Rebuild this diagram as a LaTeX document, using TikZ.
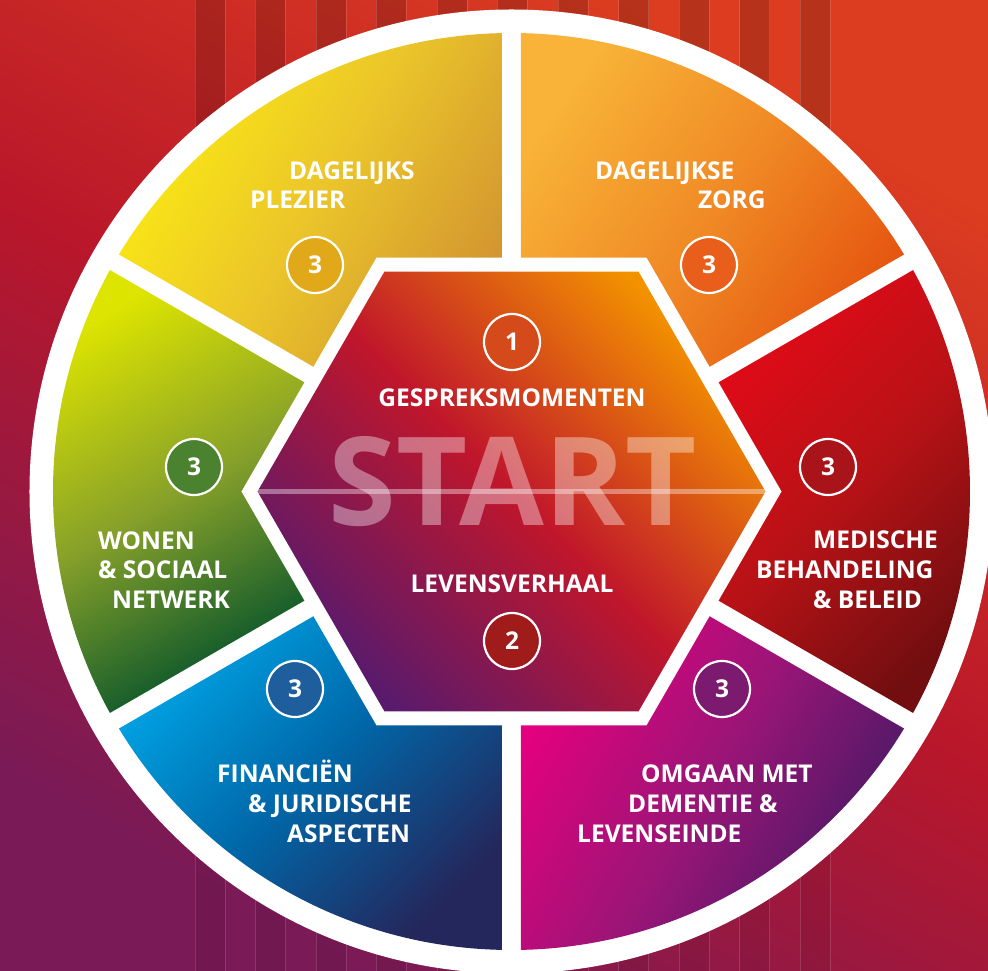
\documentclass[tikz,border=0pt]{standalone}
\usepackage{fontspec}
\setmainfont{Open Sans}
\usetikzlibrary{calc}
\definecolor{bgA}{HTML}{DC3D20}
\definecolor{bgB}{HTML}{B9172A}
\definecolor{bgC}{HTML}{7A1A56}
\definecolor{yeA}{HTML}{FBEB12}\definecolor{yeB}{HTML}{EBC52A}\definecolor{yeC}{HTML}{D39630}
\definecolor{orA}{HTML}{F8B338}\definecolor{orB}{HTML}{F08A25}\definecolor{orC}{HTML}{E5540F}
\definecolor{rdA}{HTML}{E20A18}\definecolor{rdB}{HTML}{B81216}\definecolor{rdC}{HTML}{720E10}
\definecolor{mgA}{HTML}{E5007E}\definecolor{mgB}{HTML}{9A1577}\definecolor{mgC}{HTML}{451A64}
\definecolor{blA}{HTML}{00A5E6}\definecolor{blB}{HTML}{0067A8}\definecolor{blC}{HTML}{24275C}
\definecolor{grA}{HTML}{DDE400}\definecolor{grB}{HTML}{86A02A}\definecolor{grC}{HTML}{00502B}
\definecolor{hxA}{HTML}{F39200}\definecolor{hxB}{HTML}{C0162B}\definecolor{hxC}{HTML}{5A1A6C}
\definecolor{cYe}{HTML}{E1A919}\definecolor{cOr}{HTML}{E85E1A}\definecolor{cGr}{HTML}{4B8230}
\definecolor{cRd}{HTML}{A8141A}\definecolor{cBl}{HTML}{1F5E9C}\definecolor{cMg}{HTML}{7B1A6E}
\definecolor{cOne}{HTML}{D44A1A}\definecolor{cTwo}{HTML}{A01C1A}
\newcommand\sectorfill[7]{%
  \begin{scope}
    \clip (0,0) circle (458.5);
    \pgfmathsetmacro\aone{#1-30}\pgfmathsetmacro\atwo{#1+30}
    \clip (#1:18) -- ($(\aone:600)+(\aone+90:9)$) -- (#1:900) -- ($(\atwo:600)+(\atwo-90:9)$) -- cycle;
    \shade[top color=#2,bottom color=#4,middle color=#3,shading angle=#5] #6 rectangle #7;
  \end{scope}}
\begin{document}
\begin{tikzpicture}[x=1pt,y=1pt,
  lbl/.style={text=white,font=\bfseries\fontsize{24.5}{29}\selectfont,inner sep=0pt,anchor=base west},
  numc/.style={circle,draw=white,line width=2.2pt,minimum size=56pt,inner sep=0pt,text=white,
    font=\bfseries\fontsize{24.5}{29}\selectfont}]
\useasboundingbox (-511.5,-479.5) rectangle (476.5,491.5);
% background
\shade[top color=bgA,bottom color=bgC,middle color=bgB,shading angle=-30] (-511.5,-479.5) rectangle (476.5,491.5);
\foreach \k in {0,...,10}{
  \pgfmathsetmacro\xa{-316.5+60.5*\k}
  \fill[black,opacity=0.17] (\xa,0) rectangle ++(30,491.5);
  \fill[black,opacity=0.06] (\xa,-479.5) rectangle ++(30,479.5);
  \draw[white,opacity=0.14,line width=0.7pt] (\xa,-479.5) -- ++(0,971);
  \draw[white,opacity=0.14,line width=0.7pt] (\xa+30,-479.5) -- ++(0,971);
}
% white disk
\fill[white] (0,0) circle (482);
% sectors
\sectorfill{120}{yeA}{yeB}{yeC}{60}{(-393.5,107.5)}{(-8.5,458.5)}
\sectorfill{60}{orA}{orB}{orC}{55}{(9.5,107.5)}{(394.5,458.5)}
\sectorfill{0}{rdA}{rdB}{rdC}{45}{(202.5,-230.5)}{(458.5,229.5)}
\sectorfill{300}{mgA}{mgB}{mgC}{60}{(9.5,-458.5)}{(394.5,-107.5)}
\sectorfill{240}{blA}{blB}{blC}{45}{(-393.5,-458.5)}{(-8.5,-107.5)}
\sectorfill{180}{grA}{grB}{grC}{30}{(-458.5,-230.5)}{(-201.5,229.5)}
% hexagon
\fill[white] (0:270) -- (60:270) -- (120:270) -- (180:270) -- (240:270) -- (300:270) -- cycle;
\shade[top color=hxA,bottom color=hxC,middle color=hxB,shading angle=-45]
  (0:254) -- (60:254) -- (120:254) -- (180:254) -- (240:254) -- (300:254) -- cycle;
\coordinate (hl) at (180:254);
\coordinate (hr) at (0:254);
\draw[white,opacity=0.38,line width=4.5pt] (hl) -- (hr);
\node[text=white,text opacity=0.38,inner sep=0pt,anchor=base,font=\bfseries\fontsize{123}{123}\selectfont] (start) at (1,-34.5) {START};
% labels
\node[lbl,anchor=base] (gm) at (0.5,84.5) {GESPREKSMOMENTEN};
\node[lbl,anchor=base] (lv) at (0.5,-101.5) {LEVENSVERHAAL};
\node[lbl] (y1) at (-222.5,311.5) {DAGELIJKS};
\node[lbl] (y2) at (-261.5,282.5) {PLEZIER};
\node[lbl] (o1) at (83.5,311.5) {DAGELIJKSE};
\node[lbl] (o2) at (186.5,282.5) {ZORG};
\node[lbl] (g1) at (-413.5,-58.5) {WONEN};
\node[lbl] (g2) at (-413.5,-87.5) {\& SOCIAAL};
\node[lbl] (g3) at (-399.5,-117.5) {NETWERK};
\node[lbl] (r1) at (301.5,-57.5) {MEDISCHE};
\node[lbl] (r2) at (244.5,-87.5) {BEHANDELING};
\node[lbl] (r3) at (301.5,-117.5) {\& BELEID};
\node[lbl] (b1) at (-294.5,-290.5) {FINANCIËN};
\node[lbl] (b2) at (-263.5,-320.5) {\& JURIDISCHE};
\node[lbl] (b3) at (-224.5,-350.5) {ASPECTEN};
\node[lbl] (m1) at (129.5,-290.5) {OMGAAN MET};
\node[lbl] (m2) at (116.5,-320.5) {DEMENTIE \&};
\node[lbl] (m3) at (65.5,-350.5) {LEVENSEINDE};
% number circles
\node[numc,fill=cYe] (n3y) at (-196.5,226.5) {3};
\node[numc,fill=cOr] (n3o) at (197.5,226.5) {3};
\node[numc,fill=cGr] (n3g) at (-317.5,24.5) {3};
\node[numc,fill=cRd] (n3r) at (316.5,24.5) {3};
\node[numc,fill=cBl] (n3b) at (-216.5,-197.5) {3};
\node[numc,fill=cMg] (n3m) at (210.5,-197.5) {3};
\node[numc,fill=cOne] (n1) at (0.5,149.5) {1};
\node[numc,fill=cTwo] (n2) at (0.5,-149.5) {2};
\end{tikzpicture}
\end{document}
